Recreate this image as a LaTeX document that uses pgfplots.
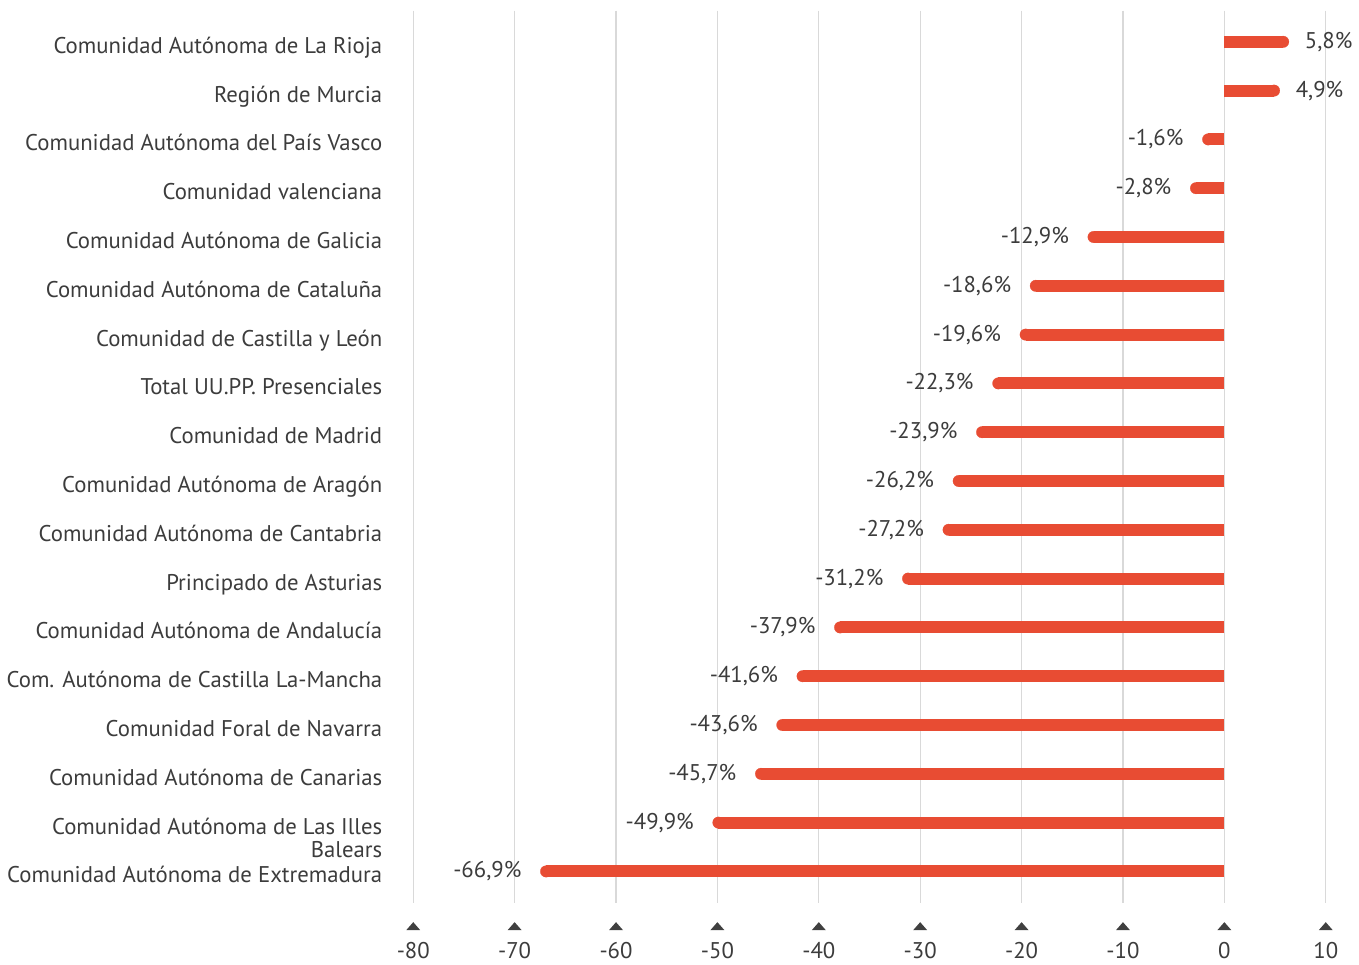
\documentclass[border=0pt]{standalone}
\usepackage{pgfplots}
\pgfplotsset{compat=1.18}
\usepackage{fontspec}
\setmainfont{PT Sans}
\definecolor{barred}{RGB}{232,76,51}
\definecolor{txt}{RGB}{60,60,60}

% y = row (0 at top), x = change in %
\pgfplotstableread{
y x lab
0 5.8 {5,8\%}
1 4.9 {4,9\%}
}\pos
\pgfplotstableread{
y x lab
2 -1.6 {-1,6\%}
3 -2.8 {-2,8\%}
4 -12.9 {-12,9\%}
5 -18.6 {-18,6\%}
6 -19.6 {-19,6\%}
7 -22.3 {-22,3\%}
8 -23.9 {-23,9\%}
9 -26.2 {-26,2\%}
10 -27.2 {-27,2\%}
11 -31.2 {-31,2\%}
12 -37.9 {-37,9\%}
13 -41.6 {-41,6\%}
14 -43.6 {-43,6\%}
15 -45.7 {-45,7\%}
16 -49.9 {-49,9\%}
17 -66.9 {-66,9\%}
}\neg

\begin{document}
\begin{tikzpicture}
\begin{axis}[
    scale only axis,
    width=457.5pt, height=447.5pt,
    xmin=-80, xmax=10,
    ymin=-0.64, ymax=17.65,
    y dir=reverse,
    clip=false,
    axis line style={draw=none},
    major tick length=0,
    xtick={-80,-70,...,10},
    xmajorgrids,
    grid style={gray!30, line width=0.6pt},
    ytick={0,...,17},
    yticklabels={
        Comunidad Autónoma de La Rioja,
        Región de Murcia,
        Comunidad Autónoma del País Vasco,
        Comunidad valenciana,
        Comunidad Autónoma de Galicia,
        Comunidad Autónoma de Cataluña,
        Comunidad de Castilla y León,
        Total UU.PP. Presenciales,
        Comunidad de Madrid,
        Comunidad Autónoma de Aragón,
        Comunidad Autónoma de Cantabria,
        Principado de Asturias,
        Comunidad Autónoma de Andalucía,
        Com. Autónoma de Castilla La-Mancha,
        Comunidad Foral de Navarra,
        Comunidad Autónoma de Canarias,
        {\begin{tabular}[t]{@{}r@{}}Comunidad Autónoma de Las Illes\\[-1.5pt]Balears\end{tabular}},
        Comunidad Autónoma de Extremadura
    },
    tick label style={text=txt, font=\fontsize{11.4}{13}\selectfont},
    yticklabel style={anchor=base east, yshift=-5.8pt, xshift=-12pt},
    /pgf/number format/assume math mode=true,
    xticklabel={\tikz\fill[black!75](0,0)--(7pt,0)--(3.5pt,4pt)--cycle;\\[1pt]\pgfmathprintnumber{\tick}},
    xticklabel style={align=center, anchor=north, yshift=-6pt},
]
\addplot[xcomb, barred, line width=6pt, mark=*, mark size=2.9pt,
    mark options={solid, line width=0.1pt, draw=barred, fill=barred},
    point meta=explicit symbolic, nodes near coords,
    every node near coord/.append style={anchor=west, xshift=7.5pt, text=txt,
        font=\fontsize{11.4}{13}\selectfont}]
    table[x=x, y=y, meta=lab] {\pos};
\addplot[xcomb, barred, line width=6pt, mark=*, mark size=2.9pt,
    mark options={solid, line width=0.1pt, draw=barred, fill=barred},
    point meta=explicit symbolic, nodes near coords,
    every node near coord/.append style={anchor=east, xshift=-9pt, text=txt,
        font=\fontsize{11.4}{13}\selectfont}]
    table[x=x, y=y, meta=lab] {\neg};
\end{axis}
\path (current bounding box.north) ++(0,5pt);
\end{tikzpicture}
\end{document}
